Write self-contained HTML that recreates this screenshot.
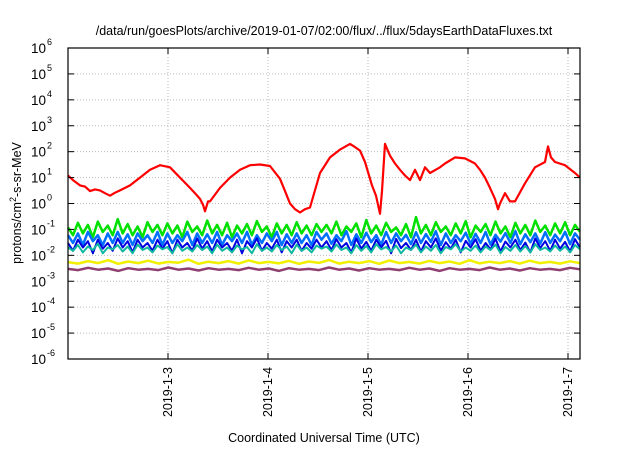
<!DOCTYPE html>
<html><head><meta charset="utf-8"><style>
body{margin:0;background:#fff}
svg text{font-family:"Liberation Sans",sans-serif;fill:#000}
</style></head><body>
<svg id="chart" width="640" height="448" viewBox="0 0 640 448" xmlns="http://www.w3.org/2000/svg">
<rect width="640" height="448" fill="#fff"/>
<text x="324" y="35" font-size="12.5" text-anchor="middle">/data/run/goesPlots/archive/2019-01-07/02:00/flux/../flux/5daysEarthDataFluxes.txt</text>
<g id="grid"></g>
<g id="series"></g>
<g id="axes"></g>
<text transform="translate(21,203) rotate(-90)" font-size="12.5" text-anchor="middle">protons/cm<tspan dy="-5" font-size="9">2</tspan><tspan dy="5">-s-sr-MeV</tspan></text>
<text x="324" y="442" font-size="12.5" text-anchor="middle">Coordinated Universal Time (UTC)</text>
</svg>
<script>
const yExps=[-6,-5,-4,-3,-2,-1,0,1,2,3,4,5,6];
const xTickDays=[1,2,3,4,5];
const xTickLabels=["2019-1-3","2019-1-4","2019-1-5","2019-1-6","2019-1-7"];
const redT=[0,0.05,0.12,0.17,0.22,0.27,0.32,0.37,0.42,0.47,0.52,0.62,0.72,0.82,0.92,1.02,1.12,1.22,1.27,1.32,1.35,1.37,1.40,1.42,1.52,1.62,1.72,1.82,1.92,2.02,2.12,2.17,2.22,2.27,2.32,2.37,2.42,2.52,2.62,2.72,2.82,2.87,2.92,2.97,3.04,3.08,3.12,3.14,3.17,3.22,3.27,3.32,3.37,3.42,3.47,3.52,3.57,3.62,3.72,3.77,3.87,3.97,4.07,4.12,4.17,4.22,4.27,4.30,4.32,4.37,4.42,4.47,4.57,4.67,4.77,4.80,4.83,4.87,4.97,5.07,5.12];
const redV=[12,8,5,4.5,3,3.5,3.2,2.5,2,2.6,3.2,5,10,20,30,25,10,4,2.5,1.5,0.9,0.5,1.2,1.2,4,10,20,30,32,28,9,3,1,0.6,0.45,0.6,0.7,15,60,120,200,150,110,40,5,2,0.4,3,200,70,35,20,12,8,20,8,25,15,25,35,60,55,35,20,10,4,1.5,0.6,1,2.5,1.2,1.2,6,25,40,160,60,40,30,15,10];
const greenV=[0.12,0.06,0.18,0.07,0.15,0.05,0.2,0.08,0.14,0.06,0.25,0.07,0.16,0.06,0.13,0.05,0.19,0.08,0.15,0.06,0.17,0.07,0.14,0.05,0.2,0.08,0.13,0.06,0.22,0.07,0.15,0.06,0.18,0.05,0.14,0.07,0.16,0.06,0.21,0.08,0.13,0.05,0.17,0.07,0.15,0.06,0.19,0.07,0.14,0.06,0.16,0.08,
0.15,0.07,0.2,0.06,0.13,0.08,0.17,0.05,0.23,0.07,0.14,0.06,0.18,0.08,0.12,0.06,0.16,0.05,0.3,0.07,0.15,0.06,0.19,0.08,0.13,0.06,0.17,0.07,0.21,0.05,0.14,0.08,0.16,0.06,0.2,0.07,0.13,0.05,0.18,0.07,0.15,0.06,0.22,0.08,0.14,0.06,0.17,0.07,0.19,0.06,0.15,0.08];
const lblueV=[0.06,0.03,0.07,0.025,0.08,0.035,0.06,0.025,0.07,0.03,0.08,0.03,0.065,0.025,0.07,0.035,0.06,0.03,0.08,0.025,0.07,0.03,0.06,0.035,0.08,0.025,0.07,0.03,0.065,0.03,0.08,0.025,0.06,0.035,0.07,0.03,0.08,0.025,0.06,0.03,0.07,0.035,0.08,0.025,0.065,0.03,0.07,0.03,0.06,0.025,0.08,0.04,
0.07,0.028,0.06,0.035,0.085,0.025,0.065,0.03,0.075,0.032,0.06,0.026,0.08,0.03,0.07,0.035,0.062,0.027,0.078,0.03,0.066,0.033,0.085,0.025,0.07,0.03,0.06,0.035,0.075,0.028,0.068,0.03,0.08,0.026,0.062,0.034,0.072,0.03,0.085,0.027,0.065,0.032,0.07,0.028,0.078,0.03,0.063,0.035,0.08,0.027,0.07,0.04];
const dblueV=[0.03,0.015,0.04,0.02,0.035,0.012,0.04,0.018,0.03,0.015,0.045,0.02,0.035,0.013,0.04,0.02,0.03,0.015,0.04,0.018,0.035,0.012,0.04,0.02,0.03,0.015,0.045,0.018,0.035,0.014,0.04,0.02,0.03,0.015,0.04,0.012,0.035,0.02,0.045,0.015,0.03,0.018,0.04,0.013,0.035,0.02,0.04,0.015,0.03,0.018,0.04,0.02,
0.035,0.016,0.042,0.02,0.03,0.013,0.045,0.018,0.033,0.015,0.04,0.02,0.036,0.012,0.043,0.019,0.03,0.016,0.04,0.014,0.035,0.02,0.045,0.015,0.032,0.018,0.04,0.013,0.036,0.02,0.042,0.015,0.03,0.017,0.044,0.014,0.034,0.02,0.04,0.016,0.031,0.013,0.045,0.019,0.035,0.015,0.04,0.018,0.033,0.014,0.042,0.02];
const tealV=[0.02,0.015,0.025,0.013,0.022,0.016,0.028,0.012,0.02,0.017,0.025,0.014,0.022,0.012,0.026,0.016,0.02,0.013,0.024,0.017,0.021,0.012,0.027,0.015,0.02,0.014,0.025,0.016,0.022,0.012,0.026,0.015,0.02,0.013,0.024,0.017,0.021,0.012,0.027,0.015,0.02,0.014,0.025,0.016,0.022,0.012,0.026,0.015,0.02,0.013,0.024,0.018,
0.022,0.014,0.026,0.016,0.02,0.012,0.025,0.015,0.023,0.013,0.027,0.017,0.021,0.014,0.024,0.012,0.02,0.016,0.026,0.013,0.022,0.015,0.025,0.012,0.021,0.017,0.027,0.014,0.02,0.015,0.024,0.013,0.022,0.016,0.026,0.012,0.021,0.015,0.025,0.014,0.023,0.013,0.027,0.016,0.02,0.014,0.024,0.015,0.022,0.013,0.025,0.017];
const yellowV=[0.0055,0.0048,0.006,0.005,0.0065,0.0047,0.0058,0.005,0.0062,0.0048,0.0056,0.0052,0.0068,0.0047,0.0057,0.005,0.006,0.0048,0.0064,0.005,0.0056,0.0049,0.0061,0.0047,0.0058,0.0051,0.0066,0.0048,0.0057,0.005,0.006,0.0047,0.0063,0.005,0.0056,0.0048,0.0061,0.005,0.0058,0.0047,0.0065,0.0049,0.0057,0.005,0.006,0.0048,0.0062,0.005,0.0056,0.0048,0.0059,0.005];
const purpleV=[0.003,0.0027,0.0033,0.0028,0.0031,0.0025,0.0032,0.0028,0.003,0.0027,0.0034,0.0028,0.0031,0.0026,0.0032,0.0028,0.003,0.0027,0.0033,0.0028,0.0031,0.0025,0.0032,0.0028,0.003,0.0027,0.0034,0.0028,0.0031,0.0026,0.0032,0.0028,0.003,0.0027,0.0033,0.0028,0.0031,0.0025,0.0032,0.0028,0.003,0.0027,0.0034,0.0028,0.0031,0.0026,0.0032,0.0028,0.003,0.0027,0.0033,0.0029];
const X0=68,X1=580,Y0=48,Y1=359,DMAX=5.12;
function xs(d){return X0+d/DMAX*(X1-X0);}
function ys(v){return Y1-(Math.log10(v)+6)/12*(Y1-Y0);}
const NS="http://www.w3.org/2000/svg";
function mk(tag,attrs,parent){const e=document.createElementNS(NS,tag);for(const k in attrs)e.setAttribute(k,attrs[k]);parent.appendChild(e);return e;}
const grid=document.getElementById('grid'),axes=document.getElementById('axes'),series=document.getElementById('series');
yExps.forEach(e=>{const y=ys(Math.pow(10,e));
 if(e>-6&&e<6){const g=mk('line',{x1:X0,x2:X1,y1:y,y2:y,stroke:'#bbb','stroke-dasharray':'1,2','stroke-width':1},grid);
 
 }
 const t1=mk('line',{x1:X0,x2:X0+6,y1:y,y2:y,stroke:'#000'},axes);
 
 
 const t2=mk('line',{x1:X1-6,x2:X1,y1:y,y2:y,stroke:'#000'},axes);
 
 
 const tx=mk('text',{x:X0-22,y:y+5,'font-size':13.5,'text-anchor':'end'},axes);
 
 
 tx.textContent='10';
 const sp=mk('tspan',{x:X0-21,y:y-3,'font-size':9,'text-anchor':'start'},tx);sp.textContent=String(e);
});
xTickDays.forEach((d,i)=>{const x=xs(d);
 const g=mk('line',{x1:x,x2:x,y1:Y0,y2:Y1,stroke:'#bbb','stroke-dasharray':'1,2'},grid);
 
 
 const t=mk('line',{x1:x,x2:x,y1:Y1,y2:Y1-6,stroke:'#000'},axes);
 
 
 const t3=mk('line',{x1:x,x2:x,y1:Y0,y2:Y0+6,stroke:'#000'},axes);
 
 
 const tx=mk('text',{transform:`translate(${x+4},${Y1+8}) rotate(-90)`,'font-size':12.5,'text-anchor':'end'},axes);
 
 
 tx.textContent=xTickLabels[i];
});
const fr=mk('rect',{x:X0,y:Y0,width:X1-X0,height:Y1-Y0,fill:'none',stroke:'#000','stroke-width':1.2},axes);


function draw(vals,ts,color,name,w){
 const pts=vals.map((v,i)=>{const t=ts?ts[i]:i*DMAX/(vals.length-1);return xs(t).toFixed(1)+','+ys(v).toFixed(1);}).join(' ');
 const p=mk('polyline',{points:pts,fill:'none',stroke:color,'stroke-width':w,'stroke-linejoin':'round'},series);
 
 
}
draw(greenV,null,'#00e000','series-green',2.5);
draw(lblueV,null,'#0070ff','series-light-blue',2.5);
draw(dblueV,null,'#0000e0','series-dark-blue',2);
draw(tealV,null,'#10b8a0','series-teal',2);
draw(yellowV,null,'#f0f000','series-yellow',2.5);
draw(purpleV,null,'#904070','series-purple',2.5);
draw(redV,redT,'#ff0000','series-red',2.2);
</script>
</body></html>
